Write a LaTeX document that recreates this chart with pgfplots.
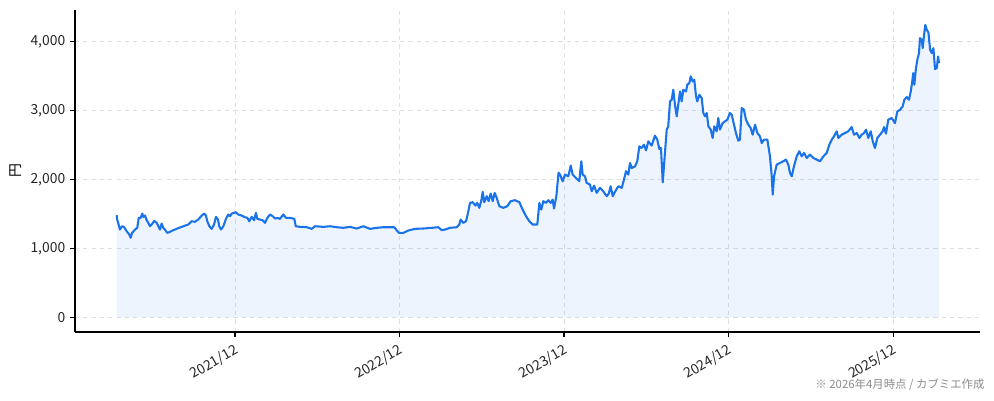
\documentclass[border=0pt]{standalone}
\usepackage{fontspec}
\setmainfont{Noto Sans CJK JP}
\usepackage{pgfplots}
\usepackage{pgfplotstable}
\pgfplotsset{compat=1.18}

\definecolor{linec}{HTML}{1A73E8}
\definecolor{gridc}{HTML}{E0E0E0}
\definecolor{notec}{HTML}{8C8C8C}

% months counted from 2021/12, price in yen
\pgfplotstableread{
m v
-8.63 1483
-8.59 1420
-8.39 1275
-8.24 1323
-8.10 1314
-7.90 1251
-7.71 1203
-7.61 1155
-7.51 1227
-7.29 1275
-7.13 1300
-7.02 1445
-6.88 1445
-6.76 1507
-6.69 1459
-6.56 1478
-6.44 1410
-6.32 1372
-6.20 1323
-6.08 1348
-5.89 1401
-5.71 1372
-5.59 1323
-5.47 1275
-5.35 1362
-5.23 1300
-5.11 1275
-4.94 1227
-4.79 1237
-4.50 1266
-4.14 1295
-3.77 1323
-3.41 1348
-3.16 1396
-2.92 1387
-2.68 1420
-2.43 1478
-2.24 1507
-2.12 1478
-2.02 1396
-1.87 1323
-1.70 1285
-1.53 1348
-1.39 1459
-1.24 1420
-1.15 1323
-1.02 1275
-0.85 1323
-0.66 1430
-0.49 1493
-0.36 1469
-0.24 1507
-0.07 1517
0.07 1527
0.24 1493
0.49 1478
0.73 1454
0.90 1445
1.04 1396
1.22 1459
1.39 1410
1.53 1517
1.63 1430
1.82 1420
2.02 1410
2.19 1372
2.36 1445
2.55 1493
2.75 1469
2.92 1435
3.09 1445
3.28 1430
3.52 1493
3.72 1445
4.01 1445
4.33 1430
4.43 1323
4.74 1314
5.23 1309
5.59 1285
5.84 1323
6.44 1314
6.93 1323
7.42 1309
7.90 1300
8.39 1314
8.88 1290
9.36 1323
9.85 1285
10.34 1300
10.82 1309
11.31 1309
11.62 1309
11.79 1266
11.96 1227
12.28 1227
12.64 1261
13.13 1285
13.73 1290
14.35 1300
14.83 1309
15.08 1266
15.32 1275
15.68 1300
16.17 1309
16.36 1348
16.46 1420
16.65 1372
16.85 1396
16.97 1493
17.14 1662
17.34 1672
17.53 1623
17.67 1662
17.82 1590
17.97 1701
18.07 1822
18.18 1672
18.36 1759
18.50 1687
18.65 1797
18.80 1687
18.94 1807
19.09 1735
19.28 1614
19.57 1590
19.86 1614
20.11 1687
20.42 1701
20.74 1672
20.98 1565
21.23 1469
21.47 1396
21.71 1348
22.05 1348
22.20 1662
22.34 1565
22.49 1687
22.68 1662
22.85 1701
23.03 1662
23.17 1710
23.27 1580
23.44 1760
23.60 2100
23.71 2072
23.90 1976
24.07 2072
24.31 2048
24.49 2203
24.63 2072
24.87 2024
25.11 1976
25.26 2266
25.36 2072
25.53 2048
25.65 1952
25.89 1928
26.02 1831
26.19 1913
26.38 1807
26.62 1880
26.86 1831
27.11 1759
27.26 1797
27.40 1904
27.55 1759
27.74 1831
27.96 1904
28.21 1880
28.37 2000
28.52 2122
28.69 2072
28.81 2242
28.94 2169
29.18 2193
29.34 2266
29.49 2483
29.66 2459
29.83 2507
29.98 2425
30.15 2555
30.39 2493
30.63 2638
30.80 2580
30.95 2444
31.07 2459
31.20 1961
31.36 2387
31.49 2725
31.60 2773
31.73 3135
31.85 3159
31.97 3304
32.09 3087
32.22 2918
32.33 3087
32.46 3280
32.58 3135
32.70 3304
32.90 3280
32.99 3377
33.14 3401
33.24 3498
33.38 3425
33.50 3449
33.63 3208
33.72 3135
33.87 3232
34.04 3184
34.16 2966
34.28 2918
34.41 2966
34.53 2773
34.70 2725
34.84 2604
34.96 2773
35.13 2701
35.25 2894
35.37 2725
35.57 2821
35.74 2846
35.91 2870
36.10 2966
36.23 2942
36.40 2797
36.54 2676
36.71 2565
36.83 2580
36.96 3039
37.12 3014
37.27 2870
37.44 2797
37.61 2749
37.76 2652
37.93 2797
38.10 2676
38.29 2628
38.42 2531
38.59 2580
38.83 2580
39.02 2338
39.15 2048
39.22 1783
39.32 2048
39.51 2217
39.75 2242
39.99 2266
40.19 2290
40.36 2217
40.48 2097
40.61 2048
40.77 2193
40.97 2338
41.16 2411
41.34 2338
41.51 2387
41.70 2314
41.94 2362
42.18 2314
42.43 2290
42.67 2266
42.92 2338
43.16 2387
43.35 2507
43.53 2580
43.69 2628
43.89 2701
44.01 2604
44.25 2652
44.49 2676
44.73 2701
44.98 2763
45.15 2652
45.35 2676
45.54 2604
45.71 2652
45.88 2676
46.03 2725
46.19 2604
46.37 2701
46.52 2556
46.68 2459
46.85 2604
47.05 2652
47.24 2701
47.34 2763
47.48 2667
47.65 2870
47.90 2894
48.14 2821
48.31 2990
48.51 3014
48.70 3063
48.82 3159
49.00 3198
49.16 3159
49.29 3280
49.40 3425
49.47 3546
49.55 3377
49.67 3619
49.77 3739
49.89 3836
49.96 4053
50.09 4029
50.16 3908
50.26 4101
50.35 4246
50.46 4174
50.58 4135
50.70 3884
50.83 3836
50.94 3908
51.06 3604
51.19 3619
51.28 3787
51.35 3691
}\price

\begin{document}
\begin{tikzpicture}
\path[use as bounding box] (-54pt,-49.68pt) rectangle (661.68pt,239.04pt);
\begin{axis}[
    at={(0,0)}, anchor=south west,
    scale only axis,
    width=651.6pt, height=231.84pt,
    xmin=-11.67, xmax=54.34,
    ymin=-212, ymax=4462,
    axis x line*=bottom, axis y line*=left,
    axis line style={-, black, line width=0.8pt},
    xtick={0,12,24,36,48},
    xticklabels={2021/12,2022/12,2023/12,2024/12,2025/12},
    ytick={0,1000,2000,3000,4000},
    scaled y ticks=false,
    /pgf/number format/1000 sep={,},
    /pgf/number format/assume math mode=true,
    tick align=outside,
    major tick length=3.5pt,
    tick style={black, line width=0.8pt},
    grid=major,
    grid style={dashed, draw=gridc, line width=0.6pt},
    ticklabel style={font=\fontsize{10}{12}\selectfont, text=black!85},
    xticklabel style={rotate=30, anchor=north east},
    ylabel={円},
    ylabel style={at={(axis description cs:-0.065,0.5)}, anchor=center,
        font=\fontsize{10}{12}\selectfont},
]
\addplot[draw=none, fill=linec, fill opacity=0.08] table[x=m, y=v] {\price} \closedcycle;
\addplot[linec, line width=1.5pt, line join=round] table[x=m, y=v] {\price};
\end{axis}
\node[anchor=east, inner sep=0pt, text=notec, font=\fontsize{8.2}{10}\selectfont]
    at (655pt,-38.2pt) {※ 2026年4月時点 / カブミエ作成};
\end{tikzpicture}
\end{document}
